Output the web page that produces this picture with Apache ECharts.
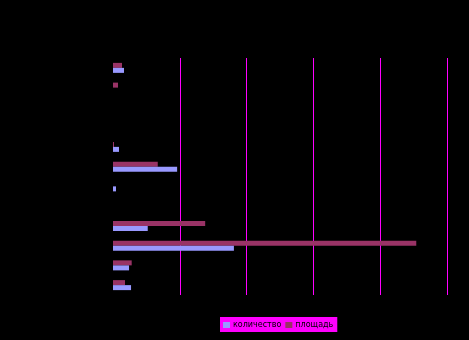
<!DOCTYPE html>
<html><head><meta charset="utf-8">
<script src="https://cdn.jsdelivr.net/npm/echarts@6/dist/echarts.min.js"></script>
<style>html,body{margin:0;padding:0;background:#000;}#c{width:469px;height:340px;}</style>
</head><body><div id="c"></div>
<script>
// categories listed bottom to top
var categories = ['12','11','10','9','8','7','6','5','4','3','2','1'];
var seriesNames = ['количество', 'площадь'];
var kolichestvo = [0.27, 0.24, 1.81, 0.52, 0, 0.045, 0.96, 0.09, 0, 0, 0, 0.165];
var ploshchad   = [0.18, 0.28, 4.54, 1.38, 0, 0,     0.67, 0.015, 0, 0, 0.075, 0.135];
var xTicks = [0, 1, 2, 3, 4, 5];

var chart = echarts.init(document.getElementById('c'), null, {renderer:'canvas'});
chart.setOption({
  backgroundColor: '#000000',
  animation: false,
  grid: {left: 113, right: 22, top: 58, bottom: 45, containLabel: false},
  xAxis: {
    type: 'value', min: xTicks[0], max: xTicks[xTicks.length-1], interval: 1,
    axisLine: {show: false}, axisTick: {show: false},
    axisLabel: {show: true, color: '#000000', fontSize: 9},
    splitLine: {show: true, lineStyle: {color: '#ff00ff', width: 1}}
  },
  yAxis: {
    type: 'category', data: categories,
    axisLine: {show: true, lineStyle: {color: '#000000'}},
    axisTick: {show: false},
    axisLabel: {show: true, color: '#000000', fontSize: 9},
    splitLine: {show: false}
  },
  legend: {
    left: 220, top: 317,
    backgroundColor: '#ff00ff',
    padding: [4, 4, 3, 3],
    itemWidth: 7, itemHeight: 6, itemGap: 4,
    icon: 'rect',
    textStyle: {color: '#000000', fontSize: 8, fontFamily: 'DejaVu Sans', padding: [0,0,0,-2]},
    data: seriesNames
  },
  series: [
    {name: seriesNames[1], type: 'bar', data: ploshchad, barWidth: 5, barGap: '0%',
     itemStyle: {color: '#993366', borderColor: '#000', borderWidth: 0}},
    {name: seriesNames[0], type: 'bar', data: kolichestvo, barWidth: 5, barGap: '0%',
     itemStyle: {color: '#9999ff', borderColor: '#000', borderWidth: 0}}
  ]
});
</script></body></html>
